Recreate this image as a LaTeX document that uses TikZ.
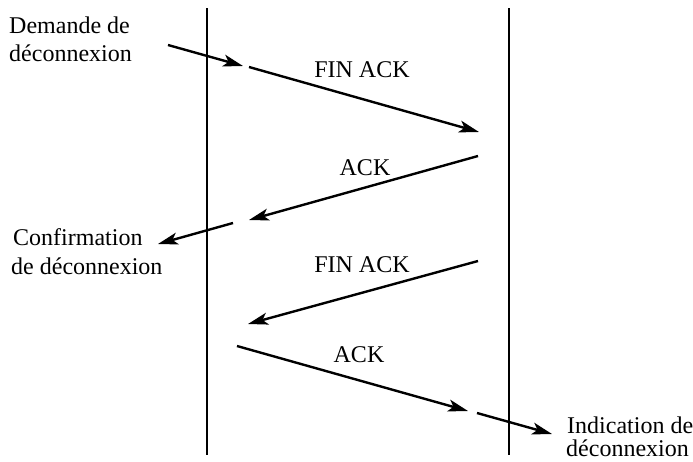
\documentclass[tikz,border=0pt]{standalone}
\usepackage{fontspec}
\setmainfont{Liberation Serif}
\newfontfamily\labelfont{Liberation Serif}
\usetikzlibrary{arrows.meta}
\begin{document}
\begin{tikzpicture}[x=1pt,y=-1pt,
  lifeline/.style={line width=1.7pt},
  msg/.style={line width=2.4pt,-{Stealth[length=20pt,width=12pt,inset=5pt]}},
  lbl/.style={inner sep=0pt,font=\labelfont\fontsize{24}{28}\selectfont},
  lblw/.style={lbl,anchor=base west},
  lblc/.style={lbl,anchor=base}]
\useasboundingbox (0,0) rectangle (693,461);

% lifelines
\coordinate (Lt) at (207,8);  \coordinate (Lb) at (207,455);
\coordinate (Rt) at (509,8);  \coordinate (Rb) at (509,455);
\draw[lifeline] (Lt) -- (Lb);
\draw[lifeline] (Rt) -- (Rb);

% message end points
\coordinate (a1s) at (168,45);  \coordinate (a1e) at (243,66);
\coordinate (a2s) at (249,67);  \coordinate (a2e) at (479,132);
\coordinate (a3s) at (478,156); \coordinate (a3e) at (249,220);
\coordinate (a4s) at (233,223); \coordinate (a4e) at (158,244);
\coordinate (a5s) at (478,261); \coordinate (a5e) at (248,324);
\coordinate (a6s) at (237,346); \coordinate (a6e) at (468,411);
\coordinate (a7s) at (477,413); \coordinate (a7e) at (552,434);

\draw[msg] (a1s) -- (a1e);
\draw[msg] (a2s) -- (a2e);
\draw[msg] (a3s) -- (a3e);
\draw[msg] (a4s) -- (a4e);
\draw[msg] (a5s) -- (a5e);
\draw[msg] (a6s) -- (a6e);
\draw[msg] (a7s) -- (a7e);

% segment labels
\node[lblc] (m1) at (362,77)  {FIN ACK};
\node[lblc] (m2) at (365,175) {ACK};
\node[lblc] (m3) at (362,272) {FIN ACK};
\node[lblc] (m4) at (359,362) {ACK};

% service primitives
\node[lblw] (dem1) at (9,33)  {Demande de};
\node[lblw] (dem2) at (9,61)  {déconnexion};
\node[lblw] (con1) at (13,245) {Confirmation};
\node[lblw] (con2) at (11,274) {de déconnexion};
\node[lblw] (ind1) at (567,433) {Indication de};
\node[lblw] (ind2) at (566,456) {déconnexion};
\end{tikzpicture}
\end{document}
